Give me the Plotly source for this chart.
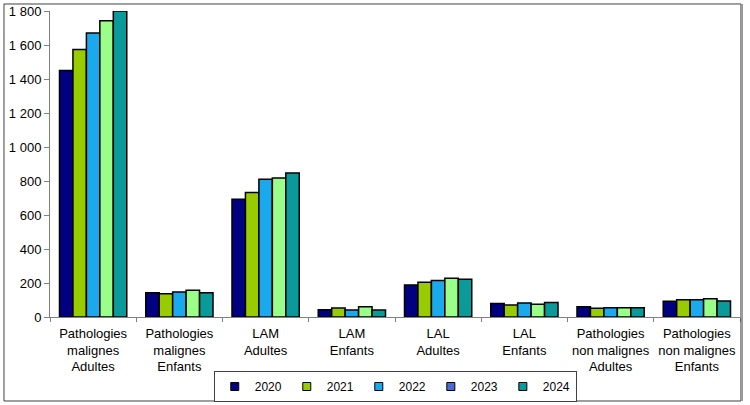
import plotly.graph_objects as go

categories = [
    "Pathologies<br>malignes<br>Adultes",
    "Pathologies<br>malignes<br>Enfants",
    "LAM<br>Adultes",
    "LAM<br>Enfants",
    "LAL<br>Adultes",
    "LAL<br>Enfants",
    "Pathologies<br>non malignes<br>Adultes",
    "Pathologies<br>non malignes<br>Enfants",
]
years = ["2020", "2021", "2022", "2023", "2024"]
v2020 = [1450, 143, 692, 43, 188, 80, 61, 92]
v2021 = [1574, 137, 733, 53, 204, 70, 51, 102]
v2022 = [1670, 147, 810, 41, 214, 82, 55, 102]
v2023 = [1742, 157, 817, 61, 228, 75, 55, 108]
v2024 = [1800, 143, 847, 41, 222, 86, 55, 94]
series = [v2020, v2021, v2022, v2023, v2024]
bar_colors = ["#000080", "#99CC00", "#1AA9EC", "#99FF88", "#0A9A9A"]
legend_colors = ["#000080", "#99CC00", "#1AA9EC", "#4A6BD0", "#0A9A9A"]
ytick_vals = [0, 200, 400, 600, 800, 1000, 1200, 1400, 1600, 1800]
ytick_text = ["0", "200", "400", "600", "800", "1 000", "1 200", "1 400", "1 600", "1 800"]

fig = go.Figure()
for yr, vals, c in zip(years, series, bar_colors):
    fig.add_trace(go.Bar(
        x=categories, y=vals, name=yr, showlegend=False,
        marker=dict(color=c, line=dict(color="#000000", width=1.5)),
    ))
for yr, c in zip(years, legend_colors):
    fig.add_trace(go.Scatter(
        x=[None], y=[None], name=yr, mode="markers", showlegend=True,
        marker=dict(symbol="square", size=8, color=c,
                    line=dict(color="#000000", width=1)),
    ))

fig.update_layout(
    width=750, height=405,
    margin=dict(l=50, r=10, t=11, b=88, autoexpand=False),
    paper_bgcolor="white", plot_bgcolor="white",
    barmode="group", bargap=0.22, bargroupgap=0,
    font=dict(family="Liberation Sans, Arial", size=13, color="#000000"),
    xaxis=dict(
        showline=True, linecolor="#808080", linewidth=1, tickangle=0,
        ticks="outside", tickson="boundaries", ticklen=4, tickcolor="#808080",
        showgrid=False, tickfont=dict(size=13), automargin=False,
        ticklabelstandoff=4,
    ),
    yaxis=dict(
        range=[0, 1800], tickvals=ytick_vals, ticktext=ytick_text,
        showline=True, linecolor="#808080", linewidth=1,
        ticks="outside", ticklen=5, tickcolor="#808080",
        showgrid=False, zeroline=False, tickfont=dict(size=13),
        automargin=False,
    ),
    legend=dict(
        orientation="h", xref="container", yref="container",
        x=0.527, xanchor="center", y=0.0074, yanchor="bottom",
        bordercolor="#404040", borderwidth=1, font=dict(size=12),
        itemwidth=30, tracegroupgap=0,
    ),
    shapes=[
        dict(type="rect", xref="paper", yref="paper",
             x0=-0.0667, x1=1.0014, y0=-0.2745, y1=1.0229,
             line=dict(color="#404040", width=1)),
        dict(type="line", xref="paper", yref="paper",
             x0=1.0029, x1=1.0029, y0=-0.2745, y1=1.0229,
             line=dict(color="#9a9a9a", width=2)),
    ],
)

fig.write_html("out.html", config={"displayModeBar": False},
               post_script="document.body.style.margin='0';")
